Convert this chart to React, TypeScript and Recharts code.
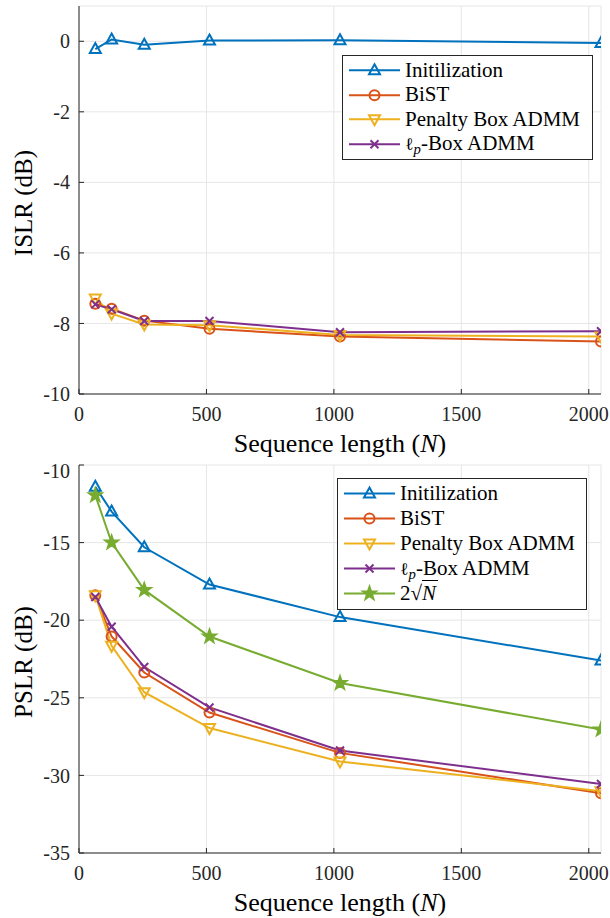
import { LineChart, Line, XAxis, YAxis, CartesianGrid } from 'recharts'

const seqLen = [64, 128, 256, 512, 1024, 2048]

const islrInit = [-0.22, 0.05, -0.1, 0.02, 0.03, -0.05]
const islrBist = [-7.44, -7.58, -7.92, -8.15, -8.37, -8.51]
const islrPenalty = [-7.29, -7.72, -8.03, -8.05, -8.33, -8.37]
const islrLp = [-7.46, -7.6, -7.93, -7.93, -8.25, -8.22]

const pslrInit = [-11.4, -13.0, -15.3, -17.7, -19.8, -22.6]
const pslrBist = [-18.4, -21.05, -23.37, -25.95, -28.55, -31.15]
const pslrPenalty = [-18.4, -21.65, -24.64, -26.95, -29.1, -31.02]
const pslrLp = [-18.5, -20.42, -23.02, -25.62, -28.4, -30.55]
const pslrRoot = [-11.95, -15.0, -18.05, -21.05, -24.05, -27.05]

const xTicks = [0, 500, 1000, 1500, 2000]
const islrTicks = [-10, -8, -6, -4, -2, 0]
const pslrTicks = [-35, -30, -25, -20, -15, -10]

const BLUE = '#0072BD'
const RED = '#D95319'
const YELLOW = '#EDB120'
const PURPLE = '#7E2F8E'
const GREEN = '#77AC30'
const AX = '#262626'
const FONT = 'Liberation Serif, DejaVu Serif, serif'

type Kind = 'up' | 'circle' | 'down' | 'cross' | 'star'

interface Series { key: string; color: string; kind: Kind; label: React.ReactNode }

const lpLabel = (
  <span>
    <span style={{ fontSize: '0.85em' }}>ℓ</span>
    <sub style={{ fontStyle: 'italic', fontSize: '0.7em', verticalAlign: '-0.25em', lineHeight: 0 }}>p</sub>-Box ADMM
  </span>
)
const rootLabel = (
  <span>
    2√<span style={{ borderTop: '1.5px solid #000', fontStyle: 'italic', paddingRight: 2 }}>N</span>
  </span>
)

const islrSeries: Series[] = [
  { key: 'init', color: BLUE, kind: 'up', label: 'Initilization' },
  { key: 'bist', color: RED, kind: 'circle', label: 'BiST' },
  { key: 'penalty', color: YELLOW, kind: 'down', label: 'Penalty Box ADMM' },
  { key: 'lp', color: PURPLE, kind: 'cross', label: lpLabel },
]
const pslrSeries: Series[] = [...islrSeries, { key: 'root', color: GREEN, kind: 'star', label: rootLabel }]

const islrData = seqLen.map((n, i) => ({
  n, init: islrInit[i], bist: islrBist[i], penalty: islrPenalty[i], lp: islrLp[i],
}))
const pslrData = seqLen.map((n, i) => ({
  n, init: pslrInit[i], bist: pslrBist[i], penalty: pslrPenalty[i], lp: pslrLp[i], root: pslrRoot[i],
}))

function starPoints(cx: number, cy: number, ro: number, ri: number) {
  const pts: string[] = []
  for (let k = 0; k < 10; k++) {
    const r = k % 2 === 0 ? ro : ri
    const a = -Math.PI / 2 + (k * Math.PI) / 5
    pts.push(`${cx + r * Math.cos(a)},${cy + r * Math.sin(a)}`)
  }
  return pts.join(' ')
}

function Marker({ kind, cx, cy, color }: { kind: Kind; cx: number; cy: number; color: string }) {
  const common = { stroke: color, strokeWidth: 2, fill: 'none' }
  if (kind === 'up') return <polygon points={`${cx},${cy - 6} ${cx + 5.5},${cy + 4} ${cx - 5.5},${cy + 4}`} {...common} />
  if (kind === 'down') return <polygon points={`${cx},${cy + 6} ${cx + 5.5},${cy - 4} ${cx - 5.5},${cy - 4}`} {...common} />
  if (kind === 'circle') return <circle cx={cx} cy={cy} r={5} {...common} />
  if (kind === 'cross')
    return (
      <g {...common}>
        <line x1={cx - 4} y1={cy - 4} x2={cx + 4} y2={cy + 4} />
        <line x1={cx - 4} y1={cy + 4} x2={cx + 4} y2={cy - 4} />
      </g>
    )
  return <polygon points={starPoints(cx, cy, 7.5, 3)} stroke={color} strokeWidth={1.5} fill={color} />
}

const makeDot = (s: Series) => (p: any) => (
  <Marker key={`${s.key}-${p.index}`} kind={s.kind} cx={p.cx} cy={p.cy} color={s.color} />
)

const noTick = () => <g />

function Legend({ series, left, top, width, rowH, textX }: {
  series: Series[]; left: number; top: number; width: number; rowH: number; textX: number
}) {
  return (
    <div
      style={{
        position: 'absolute', left, top, width, background: '#fff', border: `1px solid ${AX}`,
        fontFamily: FONT, fontSize: 21, color: '#000', padding: '2px 0 3px 0', boxSizing: 'border-box',
      }}
    >
      {series.map((s) => (
        <div key={s.key} style={{ height: rowH, display: 'flex', alignItems: 'center', whiteSpace: 'nowrap' }}>
          <svg width={textX} height={rowH} style={{ flexShrink: 0 }}>
            <line x1={6} x2={textX - 5} y1={rowH / 2} y2={rowH / 2} stroke={s.color} strokeWidth={2} />
            <Marker kind={s.kind} cx={(textX + 1) / 2} cy={rowH / 2} color={s.color} />
          </svg>
          <span style={{ lineHeight: 1 }}>{s.label}</span>
        </div>
      ))}
    </div>
  )
}

function Panel({ data, series, domain, ticks, yLabel, legend }: {
  data: any[]; series: Series[]; domain: [number, number]; ticks: number[]; yLabel: string
  legend: { left: number; top: number; width: number; rowH: number; textX: number }
}) {
  const tickStyle = { fill: AX, fontSize: 20, style: { fontFamily: FONT } }
  return (
    <div style={{ position: 'relative', width: 610, height: 459, fontFamily: FONT }}>
      <LineChart width={610} height={459} data={data} margin={{ top: 6, right: 9, left: 0, bottom: 0 }} style={{ fontFamily: FONT }}>
        <CartesianGrid xAxisId="b" yAxisId="l" stroke="#e6e6e6" strokeWidth={1} />
        <XAxis
          xAxisId="b" dataKey="n" type="number" domain={[0, 2048]} ticks={xTicks} allowDataOverflow
          height={65} stroke={AX} tickSize={-5} tickMargin={18} tick={tickStyle}
          label={() => (
            <text x={340} y={443} textAnchor="middle" dominantBaseline="central" fontSize={26} style={{ fontFamily: FONT }} fill="#000">
              Sequence length (<tspan fontStyle="italic">N</tspan>)
            </text>
          )}
        />
        <XAxis
          xAxisId="t" orientation="top" dataKey="n" type="number" domain={[0, 2048]} ticks={xTicks}
          allowDataOverflow height={0} stroke={AX} tickSize={-5} tick={noTick}
        />
        <YAxis
          yAxisId="l" domain={domain} ticks={ticks} allowDataOverflow width={79} stroke={AX}
          tickSize={-5} tickMargin={14} tick={tickStyle}
          label={() => (
            <text
              x={23} y={203} transform="rotate(-90 23 203)" textAnchor="middle" dominantBaseline="central"
              fontSize={25} style={{ fontFamily: FONT }} fill="#000"
            >
              {yLabel}
            </text>
          )}
        />
        <YAxis
          yAxisId="r" orientation="right" domain={domain} ticks={ticks} allowDataOverflow width={0}
          stroke={AX} tickSize={-5} tick={noTick}
        />
        {series.map((s) => (
          <Line
            key={s.key} xAxisId="b" yAxisId="l" type="linear" dataKey={s.key} stroke={s.color} strokeWidth={2}
            dot={makeDot(s)} activeDot={false} isAnimationActive={false}
          />
        ))}
      </LineChart>
      <Legend series={series} {...legend} />
    </div>
  )
}

export default function App() {
  return (
    <div style={{ position: 'absolute', left: 0, top: 0, width: 610, height: 918, background: '#fff', fontFamily: FONT }}>
      <Panel
        data={islrData} series={islrSeries} domain={[-10, 1]} ticks={islrTicks} yLabel="ISLR (dB)"
        legend={{ left: 342, top: 55, width: 251, rowH: 24.5, textX: 62 }}
      />
      <Panel
        data={pslrData} series={pslrSeries} domain={[-35, -10]} ticks={pslrTicks} yLabel="PSLR (dB)"
        legend={{ left: 337, top: 19, width: 250, rowH: 25, textX: 62 }}
      />
    </div>
  )
}
